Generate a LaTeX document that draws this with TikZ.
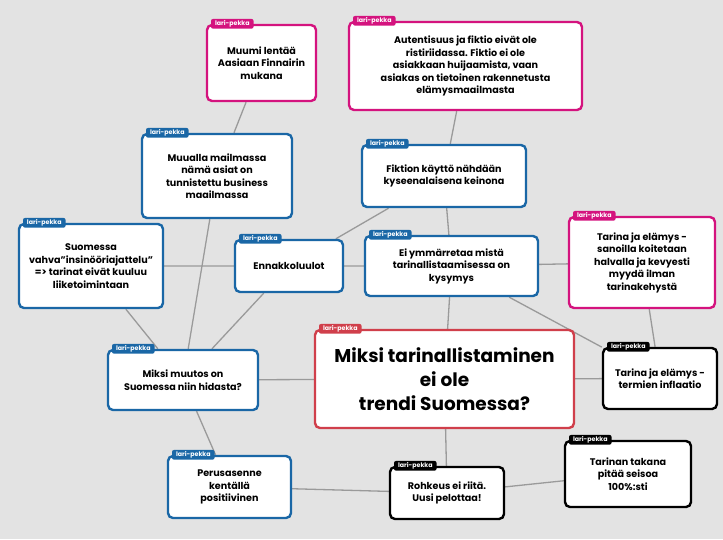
\documentclass[tikz,border=0pt]{standalone}
\usepackage{fontspec}
\setmainfont{Poppins}
\usetikzlibrary{backgrounds}
\definecolor{mapblue}{HTML}{1A67A6}
\definecolor{mapmagenta}{HTML}{D4137E}
\definecolor{mapred}{HTML}{D03F4B}
\definecolor{mapgray}{HTML}{E3E3E3}
\definecolor{linkgray}{HTML}{9A9A9A}
\begin{document}
\begin{tikzpicture}[x=1pt, y=-1pt,
    idea/.style={draw=#1, fill=white, line width=2.4pt, rounded corners=5pt, align=center,
        font=\fontsize{9.6}{12.5}\selectfont\bfseries, inner sep=3pt,
        label={[tag=#1]north west:lari-pekka}},
    tag/.style={fill=#1, text=white, rounded corners=2pt, inner xsep=4pt, inner ysep=1.5pt,
        font=\fontsize{6.3}{7}\selectfont\bfseries, anchor=west, xshift=5pt, label distance=0pt},
    link/.style={draw=linkgray, line width=1.3pt}]
    \useasboundingbox (0,0) rectangle (723,539);

    \node[idea=mapmagenta, minimum width=109pt, minimum height=76pt] (muumi) at (261.5,63) {Muumi lentää\\Aasiaan Finnairin\\mukana};
    \node[idea=mapmagenta, minimum width=233pt, minimum height=88pt] (autent) at (465.5,66) {Autentisuus ja fiktio eivät ole\\ristiriidassa. Fiktio ei ole\\asiakkaan huijaamista, vaan\\asiakas on tietoinen rakennetusta\\elämysmaailmasta};
    \node[idea=mapblue, minimum width=150pt, minimum height=84pt] (muualla) at (217,176) {Muualla mailmassa\\nämä asiat on\\tunnistettu business\\maailmassa};
    \node[idea=mapblue, minimum width=164pt, minimum height=62pt] (fiktion) at (444,176) {Fiktion käyttö nähdään\\kyseenalaisena keinona};
    \node[idea=mapblue, minimum width=144pt, minimum height=84pt] (vahva) at (91,266) {Suomessa\\vahva”insinööriajattelu”\\=> tarinat eivät kuuluu\\liiketoimintaan};
    \node[idea=mapblue, minimum width=108pt, minimum height=52pt] (ennakko) at (289,266) {Ennakkoluulot};
    \node[idea=mapblue, minimum width=173pt, minimum height=60pt] (ymmarr) at (451.5,266) {Ei ymmärretaa mistä\\tarinallistaamisessa on\\kysymys};
    \node[idea=mapmagenta, minimum width=146pt, minimum height=91pt] (sanoilla) at (642,262.5) {Tarina ja elämys -\\sanoilla koitetaan\\halvalla ja kevyesti\\myydä ilman\\tarinakehystä};
    \node[idea=mapred, minimum width=259pt, minimum height=98pt,
        font=\fontsize{18.5}{24}\selectfont\bfseries] (main) at (444.5,379) {Miksi tarinallistaminen\\ei ole\\trendi Suomessa?};
    \node[idea=black, minimum width=114pt, minimum height=61pt] (termien) at (660,378.5) {Tarina ja elämys -\\termien inflaatio};
    \node[idea=mapblue, minimum width=150pt, minimum height=60pt] (muutos) at (183,380) {Miksi muutos on\\Suomessa niin hidasta?};
    \node[idea=mapblue, minimum width=123pt, minimum height=62pt] (perus) at (229.5,487) {Perusasenne\\kentällä\\positiivinen};
    \node[idea=black, minimum width=114pt, minimum height=52pt] (rohkeus) at (447,493) {Rohkeus ei riitä.\\Uusi pelottaa!};
    \node[idea=black, minimum width=126pt, minimum height=66pt] (takana) at (628,474) {Tarinan takana\\pitää seisoa\\100\%:sti};

    \begin{scope}[on background layer]
        \fill[mapgray] (0,0) rectangle (723,539);
        \draw[link] (muumi) -- (muualla);
        \draw[link] (autent) -- (fiktion);
        \draw[link] (fiktion) -- (ymmarr);
        \draw[link] (fiktion) -- (ennakko);
        \draw[link] (vahva) -- (ennakko) -- (ymmarr) -- (sanoilla);
        \draw[link] (vahva) -- (muutos);
        \draw[link] (muualla) -- (muutos);
        \draw[link] (ennakko) -- (muutos);
        \draw[link] (ymmarr) -- (termien);
        \draw[link] (ymmarr) -- (main);
        \draw[link] (sanoilla) -- (termien);
        \draw[link] (main) -- (termien);
        \draw[link] (main) -- (muutos);
        \draw[link] (muutos) -- (perus);
        \draw[link] (main) -- (rohkeus);
        \draw[link] (rohkeus) -- (takana);
        \draw[link] (perus) -- (rohkeus);
    \end{scope}
\end{tikzpicture}
\end{document}
